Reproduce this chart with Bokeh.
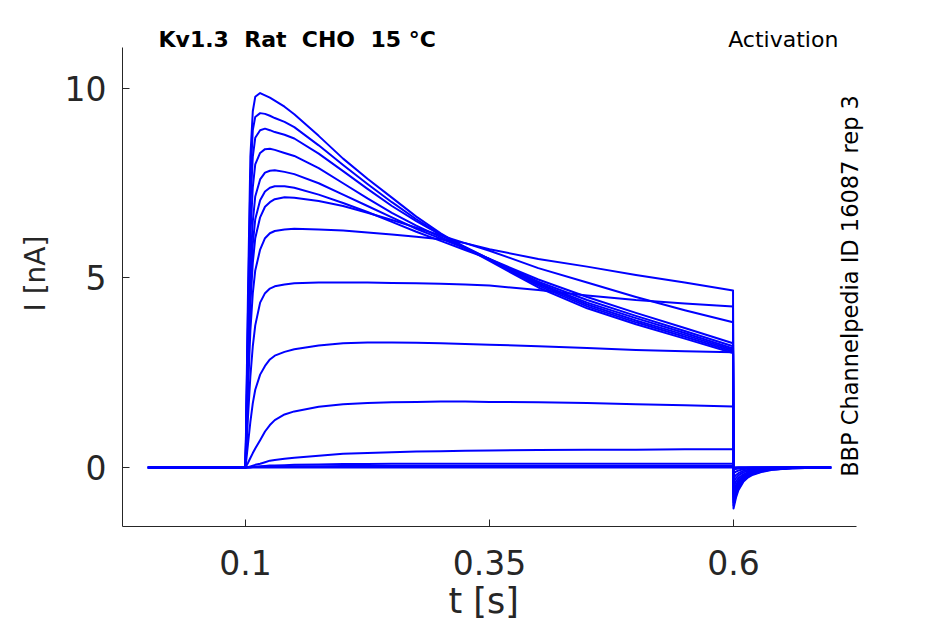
import math
from bokeh.plotting import figure
from bokeh.models import Range1d, FixedTicker, Label, Title
from bokeh.embed import file_html
from bokeh.resources import INLINE

# ---- data -------------------------------------------------------------
# times (s) during the pulse (up to the end of the step)
t_step = [0.0, 0.1, 0.1025, 0.105, 0.1075, 0.11, 0.115, 0.12, 0.125, 0.13, 0.14, 0.15,
          0.175, 0.2, 0.225, 0.25, 0.275, 0.3, 0.325, 0.35, 0.4, 0.45, 0.5, 0.55, 0.5995]
# times (s) of the tail after repolarisation
t_tail = [0.6, 0.6025, 0.605, 0.61, 0.615, 0.62, 0.63, 0.64, 0.66, 0.7]

# currents (nA) during the pulse
i_step_01 = [0, 0, 4.5, 8.2, 9.4, 9.78, 9.88, 9.82, 9.76, 9.68, 9.52, 9.32, 8.75, 8.15, 7.62, 7.12, 6.62, 6.18, 5.8, 5.45, 4.75, 4.2, 3.78, 3.4, 3.02]
i_step_02 = [0, 0, 4.0, 7.6, 8.9, 9.25, 9.35, 9.33, 9.28, 9.22, 9.12, 8.98, 8.5, 7.98, 7.48, 7.0, 6.55, 6.15, 5.8, 5.48, 4.8, 4.25, 3.83, 3.45, 3.06]
i_step_03 = [0, 0, 3.6, 6.9, 8.2, 8.7, 8.9, 8.94, 8.9, 8.85, 8.78, 8.68, 8.28, 7.82, 7.35, 6.9, 6.5, 6.14, 5.82, 5.5, 4.84, 4.3, 3.88, 3.5, 3.1]
i_step_04 = [0, 0, 3.2, 6.1, 7.4, 8.0, 8.3, 8.4, 8.41, 8.38, 8.3, 8.22, 7.9, 7.5, 7.1, 6.72, 6.38, 6.08, 5.8, 5.5, 4.86, 4.35, 3.94, 3.55, 3.14]
i_step_05 = [0, 0, 2.8, 5.3, 6.5, 7.15, 7.6, 7.78, 7.83, 7.84, 7.8, 7.74, 7.5, 7.2, 6.9, 6.6, 6.3, 6.04, 5.78, 5.5, 4.9, 4.42, 4.0, 3.6, 3.2]
i_step_06 = [0, 0, 2.5, 4.7, 5.9, 6.55, 7.05, 7.28, 7.38, 7.42, 7.42, 7.38, 7.2, 6.98, 6.74, 6.48, 6.22, 5.98, 5.74, 5.5, 4.96, 4.5, 4.08, 3.68, 3.28]
i_step_07 = [0, 0, 2.3, 4.3, 5.4, 6.05, 6.6, 6.88, 7.0, 7.08, 7.13, 7.12, 7.03, 6.9, 6.72, 6.53, 6.33, 6.12, 5.92, 5.72, 5.26, 4.88, 4.5, 4.15, 3.83]
i_step_08 = [0, 0, 2.0, 3.6, 4.6, 5.2, 5.75, 6.05, 6.18, 6.24, 6.28, 6.3, 6.28, 6.25, 6.2, 6.15, 6.09, 6.02, 5.92, 5.76, 5.5, 5.3, 5.08, 4.88, 4.67]
i_step_09 = [0, 0, 1.3, 2.4, 3.2, 3.75, 4.35, 4.6, 4.72, 4.78, 4.83, 4.86, 4.88, 4.88, 4.88, 4.87, 4.86, 4.85, 4.83, 4.8, 4.68, 4.54, 4.42, 4.33, 4.25]
i_step_10 = [0, 0, 0.6, 1.2, 1.7, 2.05, 2.45, 2.68, 2.85, 2.95, 3.05, 3.12, 3.22, 3.28, 3.3, 3.3, 3.29, 3.28, 3.26, 3.24, 3.2, 3.15, 3.1, 3.07, 3.04]
i_step_11 = [0, 0, 0.12, 0.25, 0.38, 0.5, 0.72, 0.95, 1.12, 1.25, 1.4, 1.48, 1.6, 1.67, 1.7, 1.72, 1.73, 1.74, 1.74, 1.73, 1.72, 1.7, 1.67, 1.64, 1.61]
i_step_12 = [0, 0, 0.01, 0.03, 0.05, 0.07, 0.1, 0.14, 0.18, 0.2, 0.23, 0.26, 0.31, 0.36, 0.38, 0.4, 0.42, 0.43, 0.44, 0.45, 0.46, 0.47, 0.47, 0.48, 0.48]
i_step_13 = [0, 0, 0.0, 0.01, 0.01, 0.02, 0.03, 0.04, 0.05, 0.05, 0.06, 0.07, 0.08, 0.09, 0.09, 0.1, 0.1, 0.1, 0.1, 0.1, 0.1, 0.1, 0.1, 0.1, 0.1]
i_step_14 = [0, 0, 0.0, 0.0, 0.01, 0.01, 0.01, 0.02, 0.02, 0.02, 0.03, 0.03, 0.03, 0.04, 0.04, 0.04, 0.04, 0.04, 0.04, 0.04, 0.04, 0.04, 0.04, 0.04, 0.04]
i_step_15 = [0, 0, 0.0, 0.0, 0.0, 0.0, 0.0, 0.0, 0.0, 0.0, 0.0, 0.0, 0.0, 0.0, 0.0, 0.0, 0.0, 0.0, 0.0, 0.0, 0.0, 0.0, 0.0, 0.0, 0.0]

# tail currents (nA)
i_tail_01 = [-1.08, -0.80, -0.60, -0.38, -0.26, -0.19, -0.11, -0.06, -0.02, 0.0]
i_tail_02 = [-1.00, -0.74, -0.56, -0.35, -0.24, -0.17, -0.10, -0.05, -0.02, 0.0]
i_tail_03 = [-0.92, -0.68, -0.51, -0.32, -0.22, -0.16, -0.09, -0.05, -0.02, 0.0]
i_tail_04 = [-0.85, -0.63, -0.47, -0.30, -0.20, -0.14, -0.08, -0.04, -0.01, 0.0]
i_tail_05 = [-0.78, -0.58, -0.43, -0.27, -0.18, -0.13, -0.07, -0.04, -0.01, 0.0]
i_tail_06 = [-0.70, -0.52, -0.39, -0.25, -0.17, -0.12, -0.07, -0.03, -0.01, 0.0]
i_tail_07 = [-0.62, -0.46, -0.34, -0.22, -0.15, -0.10, -0.06, -0.03, -0.01, 0.0]
i_tail_08 = [-0.50, -0.37, -0.28, -0.18, -0.12, -0.08, -0.05, -0.02, -0.01, 0.0]
i_tail_09 = [-0.38, -0.28, -0.21, -0.13, -0.09, -0.06, -0.03, -0.02, 0.0, 0.0]
i_tail_10 = [-0.27, -0.20, -0.15, -0.09, -0.06, -0.04, -0.02, -0.01, 0.0, 0.0]
i_tail_11 = [-0.15, -0.11, -0.08, -0.05, -0.03, -0.02, -0.01, 0.0, 0.0, 0.0]
i_tail_12 = [-0.05, -0.04, -0.03, -0.02, -0.01, 0.0, 0.0, 0.0, 0.0, 0.0]
i_tail_13 = [-0.02, -0.01, 0.0, 0.0, 0.0, 0.0, 0.0, 0.0, 0.0, 0.0]
i_tail_14 = [-0.01, 0.0, 0.0, 0.0, 0.0, 0.0, 0.0, 0.0, 0.0, 0.0]
i_tail_15 = [0.0, 0.0, 0.0, 0.0, 0.0, 0.0, 0.0, 0.0, 0.0, 0.0]

x_ticks = [0.1, 0.35, 0.6]
x_tick_labels = ["0.1", "0.35", "0.6"]
y_ticks = [0, 5, 10]
y_tick_labels = ["0", "5", "10"]
x_axis_extent = (-0.026, 0.726)
y_axis_extent = (-1.557, 11.08)

x_label = "t [s]"
y_label = "I [nA]"
title_text = "Kv1.3\u00a0 Rat\u00a0 CHO\u00a0 15 \u00b0C"
protocol_text = "Activation"
source_text = "BBP Channelpedia ID 16087 rep 3"

steps = [i_step_01, i_step_02, i_step_03, i_step_04, i_step_05, i_step_06, i_step_07, i_step_08,
         i_step_09, i_step_10, i_step_11, i_step_12, i_step_13, i_step_14, i_step_15]
tails = [i_tail_01, i_tail_02, i_tail_03, i_tail_04, i_tail_05, i_tail_06, i_tail_07, i_tail_08,
         i_tail_09, i_tail_10, i_tail_11, i_tail_12, i_tail_13, i_tail_14, i_tail_15]

# ---- figure -----------------------------------------------------------
FONT = "DejaVu Sans"
AX = "#262626"

# the frame is extended above and to the right so the annotation texts are not clipped;
# the visible axis lines are limited with `bounds`
p = figure(width=940, height=624, output_backend="svg", toolbar_location=None,
           x_range=Range1d(x_axis_extent[0], 0.7342), y_range=Range1d(y_axis_extent[0], 11.794),
           min_border_left=122, min_border_right=76, min_border_top=20, min_border_bottom=98)
p.outline_line_color = None
p.grid.visible = False
p.background_fill_color = "white"
p.border_fill_color = "white"

for s, tl in zip(steps, tails):
    p.line(t_step + t_tail, s + tl, line_color="#0000ff", line_width=2, line_join="round")

for ax in (p.xaxis[0], p.yaxis[0]):
    ax.axis_line_color = AX
    ax.axis_line_width = 1
    ax.major_tick_line_color = AX
    ax.major_tick_in = 7
    ax.major_tick_out = 0
    ax.minor_tick_line_color = None
    ax.major_label_text_font = FONT
    ax.major_label_text_font_size = "33px"
    ax.major_label_text_color = AX
    ax.axis_label_text_font = FONT
    ax.axis_label_text_font_style = "normal"
    ax.axis_label_text_color = AX

p.yaxis.axis_label_text_font_size = "28px"
p.xaxis.bounds = x_axis_extent
p.yaxis.bounds = y_axis_extent
p.xaxis.ticker = FixedTicker(ticks=x_ticks)
p.xaxis.major_label_overrides = {v: s for v, s in zip(x_ticks, x_tick_labels)}
p.yaxis.ticker = FixedTicker(ticks=y_ticks)
p.yaxis.major_label_overrides = {v: s for v, s in zip(y_ticks, y_tick_labels)}
p.yaxis.axis_label = y_label
p.xaxis.major_label_standoff = 23
p.yaxis.major_label_standoff = 16
p.yaxis.axis_label_standoff = 10

# x label as a title in the bottom panel so it can be centred on the drawn axis line
p.add_layout(Title(text=x_label, align="left", offset=326, text_font=FONT, text_font_size="35px",
                   text_font_style="normal", text_color=AX, standoff=3), "below")

p.add_layout(Label(x=0.0109, y=11.29, text=title_text, text_font=FONT, text_font_size="22px",
                   text_font_style="bold", text_color="black", text_align="left",
                   text_baseline="middle"))
p.add_layout(Label(x=0.7074, y=11.29, text=protocol_text, text_font=FONT, text_font_size="22px",
                   text_color="black", text_align="right", text_baseline="middle"))
p.add_layout(Label(x=0.7198, y=4.79, text=source_text, text_font=FONT, text_font_size="22.5px",
                   text_color="black", text_align="center", text_baseline="middle",
                   angle=math.pi / 2))

open("out.html", "w").write(file_html(p, INLINE))
